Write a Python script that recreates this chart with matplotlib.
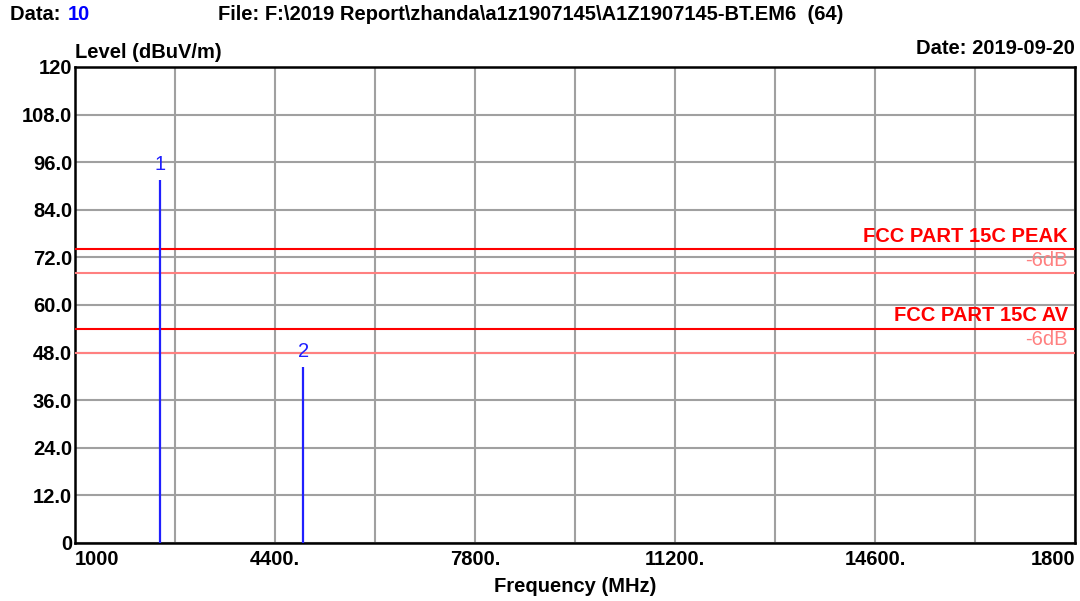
import numpy as np
import matplotlib
matplotlib.use('Agg')
import matplotlib.pyplot as plt

plt.rcParams['font.family'] = ['Liberation Sans', 'DejaVu Sans']
FS = 14.5

# %% DATOS
freqs = [2441, 4882]
levels = [91.6, 44.4]
marker_ids = ['1', '2']

limit_levels = [74, 54]
limit_names = ['FCC PART 15C PEAK', 'FCC PART 15C AV']
margin_db = 6

x_ticks = [1000, 2700, 4400, 6100, 7800, 9500, 11200, 12900, 14600, 16300, 18000]
x_labels = ['1000', '', '4400.', '', '7800.', '', '11200.', '', '14600.', '', '1800']
y_ticks = [0, 12, 24, 36, 48, 60, 72, 84, 96, 108, 120]
y_labels = ['0', '12.0', '24.0', '36.0', '48.0', '60.0', '72.0', '84.0', '96.0', '108.0', '120']

# %% FIGURA
fig = plt.figure(figsize=(10.8, 6.01), dpi=100)
ax = fig.add_axes([75/1080, 58/601, 1000/1080, 476/601])

ax.set_xlim(x_ticks[0], x_ticks[-1])
ax.set_ylim(y_ticks[0], y_ticks[-1])
ax.set_xticks(x_ticks)
ax.set_yticks(y_ticks)
ax.set_xticklabels(x_labels, fontsize=FS, fontweight='bold')
ax.set_yticklabels(y_labels, fontsize=FS, fontweight='bold')
ax.tick_params(axis='y', length=0, pad=2)
ax.tick_params(axis='x', length=0, pad=5)
xl = ax.get_xticklabels()
xl[0].set_ha('left')
xl[-1].set_ha('right')
ax.grid(True, color='#a0a0a0', linewidth=1.5)
ax.set_axisbelow(True)
for s in ax.spines.values():
    s.set_linewidth(1.8)
    s.set_color('black')

# limites
for lv, name in zip(limit_levels, limit_names):
    ax.axhline(lv, color='#ff0000', linewidth=1.5, zorder=3)
    ax.axhline(lv - margin_db, color='#ff8080', linewidth=1.5, zorder=3)
    ax.text(17880, lv + 1.0, name, color='#ff0000', fontsize=FS, fontweight='bold',
            ha='right', va='bottom', zorder=4)
    ax.text(17880, lv - margin_db + 0.8, '-6dB', color='#ff8080', fontsize=FS,
            ha='right', va='bottom', zorder=4)

# marcadores
for f, lv, mid in zip(freqs, levels, marker_ids):
    ax.vlines(f, 0, lv, color='#2020ff', linewidth=1.6, zorder=5)
    ax.text(f, lv + 1.5, mid, color='#2020ff', fontsize=FS, ha='center', va='bottom', zorder=5)

ax.set_xlabel('Frequency (MHz)', fontsize=FS, fontweight='bold', labelpad=6)

# encabezado
fig.text(10/1080, 1 - 14/601, 'Data: ', fontsize=FS, fontweight='bold', va='center')
fig.text(68/1080, 1 - 14/601, '10', fontsize=FS, fontweight='bold', va='center', color='#0000ff')
fig.text(218/1080, 1 - 14/601, 'File: F:\\2019 Report\\zhanda\\a1z1907145\\A1Z1907145-BT.EM6  (64)',
         fontsize=FS, fontweight='bold', va='center')
fig.text(75/1080, 1 - 52/601, 'Level (dBuV/m)', fontsize=FS, fontweight='bold', va='center')
fig.text(1075/1080, 1 - 48/601, 'Date: 2019-09-20', fontsize=FS, fontweight='bold',
         va='center', ha='right')

fig.savefig('out.png', dpi=100)
